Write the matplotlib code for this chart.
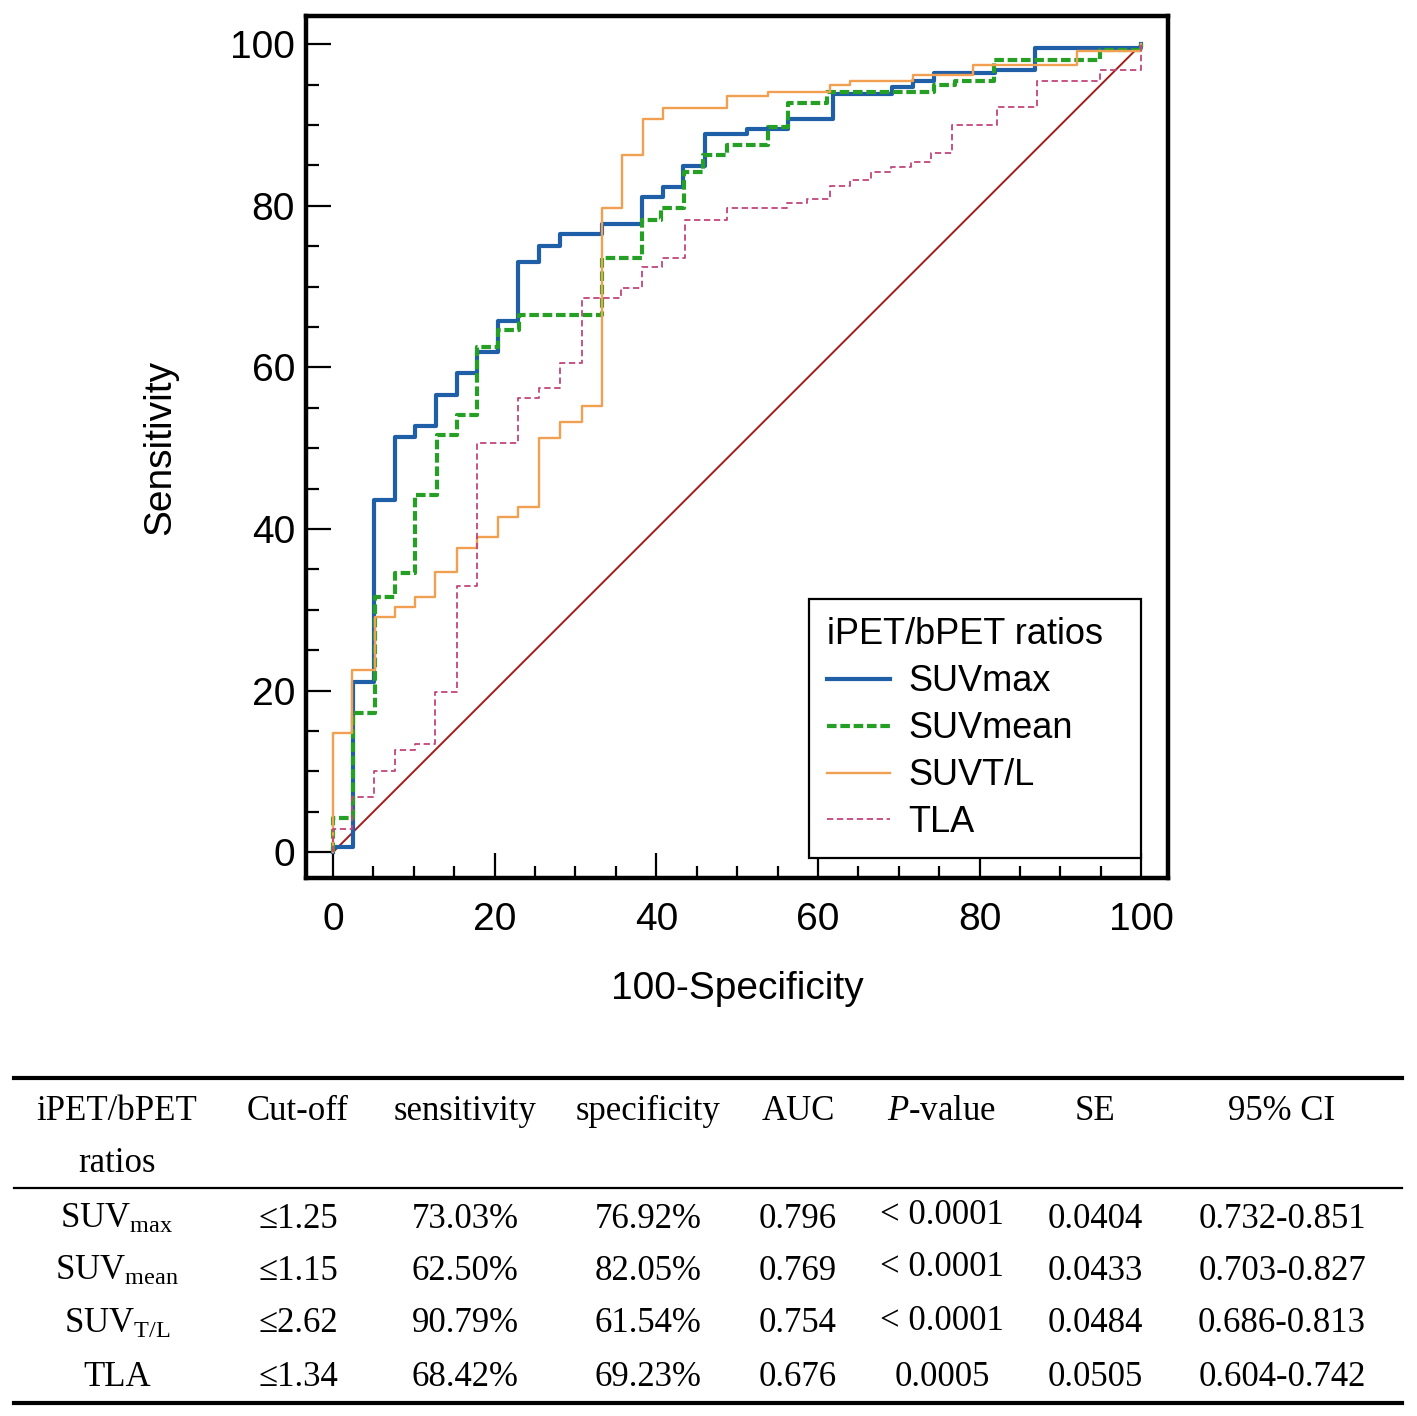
import matplotlib
matplotlib.use("Agg")
import matplotlib.pyplot as plt
from matplotlib.lines import Line2D

plt.rcParams['font.family'] = ['Liberation Sans', 'DejaVu Sans']
plt.rcParams['mathtext.fontset'] = 'custom'
plt.rcParams['mathtext.rm'] = 'Liberation Serif'
plt.rcParams['mathtext.it'] = 'Liberation Serif:italic'

# ROC curves (100-specificity, sensitivity), step corners
suvmax_x = [0, 0, 2.5, 5.1, 7.7, 10.1, 12.8, 15.3, 17.8, 20.4, 22.9, 25.5, 28.1,
            33.3, 38.2, 40.8, 43.3, 46.0, 51.2, 56.3, 61.8, 69.2, 71.8, 74.3,
            81.9, 86.9, 100]
suvmax_y = [0, 0.6, 21.1, 43.6, 51.4, 52.8, 56.6, 59.3, 61.9, 65.8, 73.0, 75.0,
            76.5, 77.8, 81.1, 82.3, 84.9, 88.9, 89.5, 90.8, 93.9, 94.7, 95.5,
            96.4, 96.8, 99.5, 100]

suvmean_x = [0, 0, 2.5, 5.2, 7.7, 10.1, 12.9, 15.3, 17.8, 20.4, 23.0, 33.3, 38.2,
             40.6, 43.4, 45.8, 48.8, 53.8, 56.3, 61.1, 74.3, 77.0, 81.8, 94.9, 100]
suvmean_y = [0, 4.2, 17.2, 31.6, 34.5, 44.2, 51.6, 54.1, 62.5, 64.6, 66.5, 73.6,
             78.2, 79.7, 84.2, 86.3, 87.5, 89.7, 92.7, 94.1, 94.9, 95.5, 98.1,
             99.3, 100]

suvtl_x = [0, 0, 2.4, 5.2, 7.7, 10.1, 12.6, 15.3, 17.8, 20.4, 22.9, 25.5, 28.1,
           30.8, 33.3, 35.8, 38.4, 40.8, 48.8, 53.8, 61.5, 64.0, 71.8, 79.2,
           92.1, 100]
suvtl_y = [0, 14.7, 22.5, 29.1, 30.3, 31.6, 34.7, 37.6, 39.0, 41.5, 42.7, 51.3,
           53.2, 55.2, 79.7, 86.3, 90.8, 92.1, 93.6, 94.1, 94.9, 95.5, 96.2,
           97.4, 99.2, 100]

tla_x = [0, 0, 2.4, 5.1, 7.7, 10.1, 12.6, 15.3, 17.8, 22.9, 25.5, 28.1, 30.8,
         35.6, 38.2, 40.7, 43.6, 48.8, 56.2, 58.7, 61.5, 64.0, 66.5, 69.0, 71.5,
         74.0, 76.6, 82.2, 87.1, 94.9, 100]
tla_y = [0, 2.9, 6.8, 10.1, 12.6, 13.4, 19.8, 33.0, 50.7, 56.2, 57.4, 60.6, 68.6,
         69.8, 72.4, 73.6, 78.3, 79.7, 80.3, 80.9, 82.5, 83.2, 84.2, 84.8, 85.4,
         86.5, 90.0, 92.2, 95.5, 96.8, 100]

series_names = ['SUVmax', 'SUVmean', 'SUVT/L', 'TLA']

# table
col_heads = ['iPET/bPET', 'Cut-off', 'sensitivity', 'specificity', 'AUC',
             '$P$-value', 'SE', '95% CI']
row_names = ['SUV$_\\mathregular{max}$', 'SUV$_\\mathregular{mean}$',
             'SUV$_\\mathregular{T/L}$', 'TLA']
cutoffs = ['\u22641.25', '\u22641.15', '\u22642.62', '\u22641.34']
sens = ['73.03%', '62.50%', '90.79%', '68.42%']
spec = ['76.92%', '82.05%', '61.54%', '69.23%']
auc = ['0.796', '0.769', '0.754', '0.676']
pval = ['< 0.0001', '< 0.0001', '< 0.0001', '0.0005']
se = ['0.0404', '0.0433', '0.0484', '0.0505']
ci = ['0.732-0.851', '0.703-0.827', '0.686-0.813', '0.604-0.742']

W, H = 1417, 1416
fig = plt.figure(figsize=(W / 100, H / 100), dpi=100)
ax = fig.add_axes([306 / W, 1 - 878 / H, 862 / W, 862 / H])

ax.plot([0, 100], [0, 100], color='#a31c1c', lw=1.4, zorder=1)
ax.plot(suvmax_x, suvmax_y, drawstyle='steps-post', color='#1f5fa8', lw=3.0,
        label=series_names[0], zorder=2)
ax.plot(suvmean_x, suvmean_y, drawstyle='steps-post', color='#25a025', lw=3.0,
        dashes=(2.3, 0.9), label=series_names[1], zorder=3)
ax.plot(suvtl_x, suvtl_y, drawstyle='steps-post', color='#f0a050', lw=1.7,
        label=series_names[2], zorder=4)
ax.plot(tla_x, tla_y, drawstyle='steps-post', color='#c2457a', lw=1.3,
        dashes=(3.5, 2.0), label=series_names[3], zorder=5)

ax.set_xlim(-3.34, 103.3)
ax.set_ylim(-3.2, 103.5)
ax.set_xticks(range(0, 101, 20))
ax.set_yticks(range(0, 101, 20))
ax.set_xticks(range(0, 101, 5), minor=True)
ax.set_yticks(range(0, 101, 5), minor=True)
ax.tick_params(which='both', direction='in', width=1.6, color='black')
ax.tick_params(which='major', length=18, labelsize=28)
ax.tick_params(which='minor', length=9)
ax.tick_params(axis='x', pad=17)
ax.tick_params(axis='y', pad=8)
for s in ax.spines.values():
    s.set_linewidth(3.2)

ax.set_xlabel('100-Specificity', fontsize=28, labelpad=24)
ax.set_ylabel('Sensitivity', fontsize=28, labelpad=37)

leg = ax.legend(loc='lower right', bbox_to_anchor=(0.969, 0.023),
                borderaxespad=0, title='iPET/bPET ratios  ', alignment='left',
                fontsize=26, title_fontsize=26, frameon=True, fancybox=False,
                edgecolor='black', framealpha=1, handlelength=1.75,
                handletextpad=0.5, labelspacing=0.33, borderpad=0.5)
leg.get_frame().set_linewidth(1.6)

# table
def hline(py, lw):
    fig.add_artist(Line2D([14 / W, 1402 / W], [1 - py / H, 1 - py / H],
                          transform=fig.transFigure, color='black', lw=lw))

hline(1078, 3.0)
hline(1188, 1.6)
hline(1403, 3.0)

col_x = [117, 298, 465, 648, 798, 942, 1095, 1282]
tkw = dict(family='Liberation Serif', fontsize=25, ha='center', va='center')
for cx, head in zip(col_x, col_heads):
    fig.text(cx / W, 1 - 1111 / H, head, **tkw)
fig.text(col_x[0] / W, 1 - 1164 / H, 'ratios', **tkw)

row_y = [1219, 1271, 1324, 1377]
for i, ry in enumerate(row_y):
    vals = [row_names[i], cutoffs[i], sens[i], spec[i], auc[i], pval[i], se[i], ci[i]]
    for j, (cx, v) in enumerate(zip(col_x, vals)):
        yy = ry - 3 if (j == 5 and v.startswith('<')) else ry
        fig.text(cx / W, 1 - yy / H, v, **tkw)

fig.savefig('out.png', dpi=100, facecolor='white')
